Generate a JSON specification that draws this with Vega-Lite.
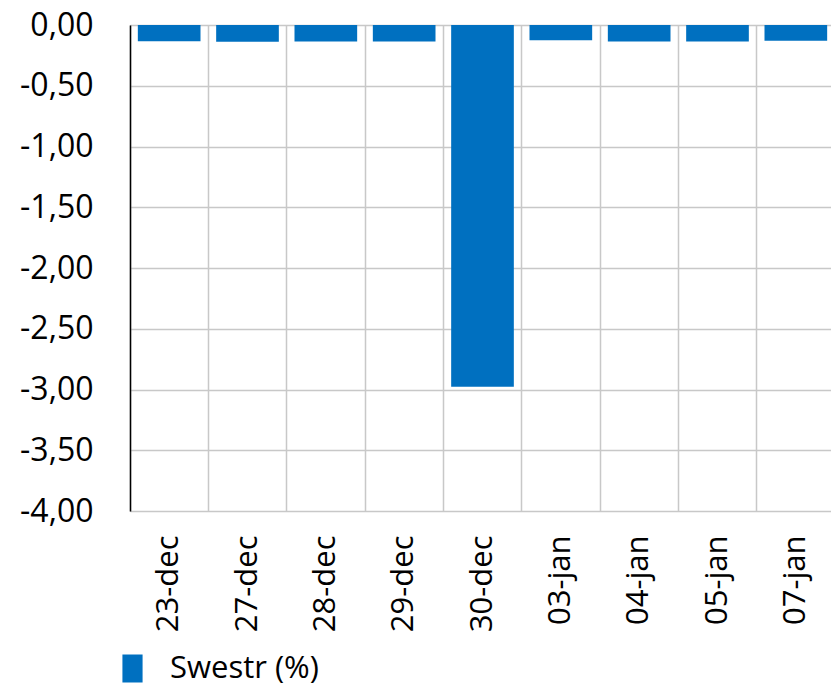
{
  "$schema": "https://vega.github.io/schema/vega-lite/v6.json",
  "width": 705,
  "height": 486,
  "autosize": "none",
  "padding": {"left": 130, "top": 25, "right": 0, "bottom": 180},
  "background": "white",
  "data": {
    "values": [
      {"date": "23-dec", "value": -0.134, "series": "Swestr (%)"},
      {"date": "27-dec", "value": -0.137, "series": "Swestr (%)"},
      {"date": "28-dec", "value": -0.136, "series": "Swestr (%)"},
      {"date": "29-dec", "value": -0.136, "series": "Swestr (%)"},
      {"date": "30-dec", "value": -2.977, "series": "Swestr (%)"},
      {"date": "03-jan", "value": -0.126, "series": "Swestr (%)"},
      {"date": "04-jan", "value": -0.136, "series": "Swestr (%)"},
      {"date": "05-jan", "value": -0.136, "series": "Swestr (%)"},
      {"date": "07-jan", "value": -0.129, "series": "Swestr (%)"}
    ]
  },
  "config": {
    "font": "Open Sans",
    "view": {"stroke": null}
  },
  "mark": {"type": "bar", "width": {"band": 0.8}},
  "encoding": {
    "x": {
      "field": "date",
      "type": "nominal",
      "sort": null,
      "scale": {"paddingInner": 0, "paddingOuter": 0},
      "axis": {
        "title": null,
        "labelAngle": -90,
        "labelFontSize": 31,
        "labelColor": "#000000",
        "labelPadding": 24,
        "grid": true,
        "bandPosition": 0,
        "gridColor": "#c8c8c8",
        "gridWidth": 1.5,
        "domain": false,
        "ticks": false
      }
    },
    "y": {
      "field": "value",
      "type": "quantitative",
      "scale": {"domain": [-4, 0], "nice": false},
      "axis": {
        "title": null,
        "values": [0, -0.5, -1, -1.5, -2, -2.5, -3, -3.5, -4],
        "labelExpr": "replace(replace(format(datum.value, '.2f'), '.', ','), '−', '-')",
        "labelFontSize": 32,
        "labelColor": "#000000",
        "labelPadding": 37,
        "ticks": false,
        "domainColor": "#000000",
        "domainWidth": 1.5,
        "gridColor": "#c8c8c8",
        "gridWidth": 1.5
      }
    },
    "color": {
      "field": "series",
      "type": "nominal",
      "scale": {"range": ["#0070C0"]},
      "legend": {
        "title": null,
        "orient": "none",
        "legendX": -13,
        "legendY": 628,
        "labelFontSize": 31,
        "labelColor": "#000000",
        "symbolType": "M-0.72,-1H0.72V1H-0.72Z",
        "symbolSize": 784,
        "symbolStrokeWidth": 0,
        "symbolOpacity": 1,
        "labelOffset": 22
      }
    }
  }
}
